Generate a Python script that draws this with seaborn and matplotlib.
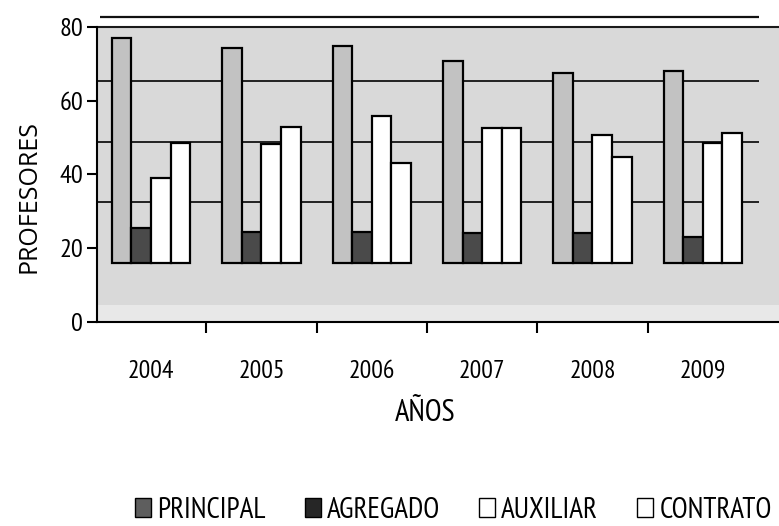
import matplotlib
matplotlib.use("Agg")
import matplotlib.pyplot as plt
import seaborn as sns
import pandas as pd
from matplotlib.patches import Patch
from matplotlib.ticker import FixedLocator

# ---- data ----
years = ["2004", "2005", "2006", "2007", "2008", "2009"]
series = ["PRINCIPAL", "AGREGADO", "AUXILIAR", "CONTRATO"]
principal = [77, 74.3, 74.8, 70.7, 67.5, 68]
agregado = [25.5, 24.4, 24.4, 24, 24, 23]
auxiliar = [39, 48.2, 55.9, 52.6, 50.7, 48.5]
contrato = [48.5, 52.8, 43, 52.6, 44.7, 51.3]
yticks = [0, 20, 40, 60, 80]
bar_base = 16                       # floor of the (pseudo 3-D) bar wall
wall_lines = [32.5, 48.7, 65.4]     # gridlines of the back wall
top_line = 82.7

sns.set_theme(style="white")
narrow = ["PT Sans Narrow", "DejaVu Sans"]
plt.rcParams["font.family"] = narrow
for k in ["text.color", "axes.labelcolor", "xtick.color", "ytick.color"]:
    plt.rcParams[k] = "black"

rows = []
for name, vals in zip(series, [principal, agregado, auxiliar, contrato]):
    for y, v in zip(years, vals):
        rows.append({"year": y, "serie": name, "valor": v, "alto": v - bar_base})
df = pd.DataFrame(rows)

fig = plt.figure(figsize=(7.79, 5.26), dpi=100, facecolor="white")
ax = fig.add_axes([97 / 779, 204 / 526, 682 / 779, 308 / 526])
ax.set_facecolor("none")

palette = {"PRINCIPAL": "#c2c2c2", "AGREGADO": "#4a4a4a",
           "AUXILIAR": "#ffffff", "CONTRATO": "#ffffff"}
sns.barplot(data=df, x="year", y="alto", hue="serie", hue_order=series,
            order=years, palette=palette, width=0.71, gap=0, dodge=True,
            legend=False, errorbar=None, saturation=1,
            edgecolor="black", linewidth=1.6, bottom=bar_base, zorder=3, ax=ax)

ax.set_xlim(-0.49, 5.69)
ax.set_ylim(0, 83.5)

# background wall
ax.axhspan(0, 80, color="#d9d9d9", zorder=0, lw=0)
ax.axhspan(0, 4.5, color="#e8e8e8", zorder=0.5, lw=0)
ax.axhline(80, color="#1a1a1a", lw=1.5, zorder=1)
ax.hlines(wall_lines, -0.49, 5.51, colors="#222222", lw=1.4, zorder=1)
ax.hlines([top_line], -0.46, 5.51, colors="#111111", lw=1.6, zorder=1, clip_on=False)

for s in ["top", "right"]:
    ax.spines[s].set_visible(False)
for s in ["left", "bottom"]:
    ax.spines[s].set_color("black")
    ax.spines[s].set_linewidth(1.5)
ax.spines["left"].set_bounds(0, 80)

ax.set_yticks(yticks)
ax.set_yticklabels([str(t) for t in yticks])
ax.tick_params(axis="y", length=7, width=1.5, direction="out", labelsize=19,
               pad=3, colors="black", left=True)
ax.tick_params(axis="x", which="major", length=0, labelsize=18.5, pad=27, colors="black")
ax.xaxis.set_minor_locator(FixedLocator([0.5, 1.5, 2.5, 3.5, 4.5]))
ax.tick_params(axis="x", which="minor", length=8, width=1.5, direction="out",
               bottom=True, color="black")

ax.set_ylabel("PROFESORES", fontsize=18, family=["Open Sans", "DejaVu Sans"],
              color="black")
ax.yaxis.set_label_coords(-0.082, 0.406)
ax.set_xlabel("AÑOS", fontsize=22, color="black")
ax.xaxis.set_label_coords(0.481, -0.25)

legend_colors = ["#5e5e5e", "#262626", "#ffffff", "#ffffff"]
handles = [Patch(facecolor=c, edgecolor="black", lw=1.0) for c in legend_colors]
fig.legend(handles, series, loc="center", bbox_to_anchor=(0.582, 0.03), ncol=4,
           frameon=False, fontsize=21, handlelength=0.55, handleheight=0.6,
           handletextpad=0.2, columnspacing=1.35, labelcolor="black")

fig.savefig("out.png", dpi=100, facecolor="white")
